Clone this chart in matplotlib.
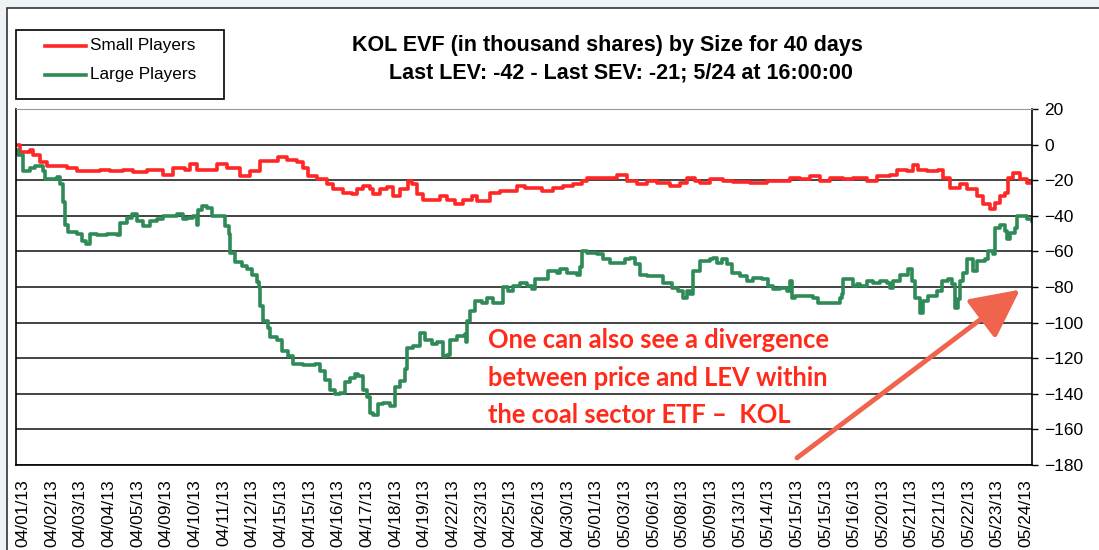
import numpy as np
import matplotlib.pyplot as plt
from matplotlib.patches import Rectangle
from matplotlib.lines import Line2D

plt.rcParams['font.family'] = ['Liberation Sans', 'DejaVu Sans']

# intraday sample number (15-min bars over the 40 days), EVF value in thousand shares
small = np.array([
    (0, 0), (4, -4), (14, -3), (17, -5.6), (24, -10), (31, -12), (37, -12), (44, -12),
    (51, -13), (61, -15), (71, -15), (84, -14), (94, -15), (107, -14), (117, -15.5),
    (131, -14), (141, -14), (147, -17), (157, -13), (169, -14), (174, -11), (181, -14),
    (191, -14), (201, -11), (211, -13), (224, -17.8), (234, -15), (244, -9.3), (254, -9.3),
    (262, -7), (271, -8.4), (281, -10), (287, -13), (292, -17.8), (301, -19.6), (311, -22.4),
    (317, -25), (327, -27), (336, -28), (341, -25), (347, -23.4), (354, -25), (357, -28),
    (364, -25), (371, -24), (377, -29), (384, -25), (392, -20.6), (396, -22.4), (401, -28),
    (407, -31), (417, -31), (424, -29), (431, -31), (439, -33.6), (447, -31), (456, -29),
    (461, -31.8), (467, -31.8), (474, -27), (484, -26), (494, -26), (501, -23.4),
    (509, -24.3), (514, -24.3), (526, -26), (537, -24.3), (547, -23.4), (557, -22.4),
    (566, -20.6), (571, -18.7), (581, -18.7), (591, -18.7), (601, -17.2), (611, -20.6),
    (621, -22.4), (631, -20.6), (641, -21.5), (654, -23.4), (664, -21.5), (671, -18.7),
    (679, -20.6), (684, -21.5), (694, -19.6), (707, -20.6), (717, -21), (734, -21.5),
    (751, -20.6), (764, -20.6), (774, -19), (784, -19.6), (794, -17.8), (804, -20.6),
    (814, -18.7), (827, -19.6), (837, -18.7), (844, -18.7), (851, -20.6), (861, -17.8),
    (874, -16.8), (881, -14), (891, -15), (897, -11.2), (902, -14), (911, -15), (922, -14),
    (927, -18.7), (934, -24.3), (944, -22.4), (951, -25), (961, -29), (967, -33.6),
    (974, -36.4), (979, -32.7), (984, -29), (989, -27), (992, -18.7), (997, -15.9),
    (1004, -19.6), (1011, -21.5), (1016, -21),
])

large = np.array([
    (0, -3), (2, -5.6), (7, -15), (14, -13), (19, -12), (24, -12), (27, -15), (29, -19.6),
    (37, -19.6), (41, -18), (44, -22), (47, -32), (49, -45), (52, -49), (57, -49),
    (61, -50.5), (66, -54), (70, -56), (74, -50.5), (81, -51), (91, -50.5), (97, -50.5),
    (101, -51), (104, -44), (111, -41), (116, -39), (121, -43), (127, -46), (134, -43),
    (141, -42), (147, -40), (154, -40), (161, -39), (167, -42), (171, -41), (177, -40),
    (181, -45), (182, -37), (186, -34.6), (191, -35.5), (196, -40), (204, -40), (209, -46),
    (213, -50.5), (214, -61), (219, -66), (226, -68), (231, -70), (236, -73), (241, -77),
    (243, -80), (244, -90.7), (247, -99), (252, -103), (254, -108), (261, -110),
    (266, -116), (272, -119), (277, -123), (287, -124), (299, -123), (304, -127),
    (309, -132), (314, -138), (319, -140), (324, -139.6), (329, -133.6), (334, -131),
    (339, -129), (342, -130), (347, -138), (351, -142), (354, -151), (357, -152),
    (362, -146), (367, -145), (374, -146.7), (379, -136), (384, -132.7), (389, -126),
    (391, -114), (397, -113), (404, -105.6), (409, -110), (416, -112), (421, -111),
    (427, -118.7), (431, -118), (434, -110), (441, -107.5), (449, -106.5), (450, -111),
    (451, -99), (454, -93.5), (459, -88), (466, -88.8), (471, -86), (477, -88.8),
    (482, -88.8), (487, -80), (492, -82), (497, -79.4), (504, -77.6), (511, -79.4),
    (516, -81.3), (519, -75.7), (529, -75.7), (532, -71), (541, -72), (544, -70),
    (551, -72), (561, -73), (564, -69), (566, -59.8), (571, -60.7), (581, -61.7),
    (587, -64.5), (594, -66.4), (604, -66.4), (609, -64.5), (614, -63.5), (619, -67.3),
    (624, -73), (631, -73.8), (641, -73.8), (647, -77.6), (656, -80.4), (662, -82),
    (667, -86), (671, -82), (674, -84), (677, -71), (684, -65.4), (694, -64.5),
    (697, -63.5), (701, -66.4), (706, -64.5), (711, -67.3), (716, -72), (724, -73.8),
    (731, -76.6), (737, -74.8), (746, -75.7), (752, -79.4), (757, -81.3), (764, -80.4),
    (771, -82.2), (774, -76.6), (776, -86), (779, -85), (787, -85), (797, -86),
    (802, -88.8), (811, -88.8), (821, -88.8), (824, -86), (826, -84), (827, -75.7),
    (834, -75.7), (837, -79.4), (841, -78.5), (844, -79.4), (851, -76.6), (857, -77.6),
    (864, -76.6), (871, -77.6), (874, -80.4), (877, -76.6), (884, -73), (892, -70),
    (896, -76.6), (899, -86), (904, -94.4), (907, -88), (912, -85), (921, -82.2),
    (926, -76.6), (932, -75.7), (936, -78.5), (939, -91.6), (942, -86.9), (944, -76.6),
    (947, -72), (951, -64.5), (957, -71), (961, -65.4), (969, -64.5), (972, -59.8),
    (977, -61.7), (979, -46.7), (984, -44.9), (989, -48.6), (991, -53.3), (994, -49.5),
    (999, -46.7), (1001, -40.2), (1007, -40.2), (1011, -42), (1016, -43),
])

dates = ["04/01/13", "04/02/13", "04/03/13", "04/04/13", "04/05/13", "04/09/13",
         "04/10/13", "04/11/13", "04/12/13", "04/15/13", "04/15/13", "04/16/13",
         "04/17/13", "04/18/13", "04/19/13", "04/22/13", "04/23/13", "04/25/13",
         "04/26/13", "04/30/13", "05/01/13", "05/03/13", "05/06/13", "05/08/13",
         "05/09/13", "05/13/13", "05/14/13", "05/15/13", "05/15/13", "05/16/13",
         "05/20/13", "05/21/13", "05/21/13", "05/22/13", "05/23/13", "05/24/13"]
yticks = list(range(20, -181, -20))
series_names = ["Small Players", "Large Players"]
title_lines = ["KOL EVF (in thousand shares) by Size for 40 days",
               "Last LEV: -42 - Last SEV: -21; 5/24 at 16:00:00"]
note_lines = ["One can also see a divergence",
              "between price and LEV within",
              "the coal sector ETF \u2013  KOL"]

RED = '#ff2626'
GREEN = '#2e8b57'
W, H = 1099, 550

fig = plt.figure(figsize=(10.99, 5.5), dpi=100)
fig.patch.set_facecolor('#edf2f4')
fig.add_artist(Rectangle((7 / W, -0.05), 1.1, 1 - 8 / H + 0.05, transform=fig.transFigure,
                         facecolor='white', edgecolor='#333333', lw=1.2, zorder=-10))

ax = fig.add_axes([16 / W, 85 / H, 1016 / W, 356 / H])
ax.patch.set_alpha(0)
ax.plot(small[:, 0], small[:, 1], color=RED, lw=2.6, drawstyle='steps-post')
ax.plot(large[:, 0], large[:, 1], color=GREEN, lw=2.6, drawstyle='steps-post')
ax.set_xlim(0, 1016)
ax.set_ylim(-180, 20)

ax.set_axisbelow(True)
ax.yaxis.grid(True, color='#111111', lw=1.1)
ax.yaxis.tick_right()
ax.set_yticks(yticks)
ax.tick_params(axis='y', direction='out', length=4, width=1, pad=5, labelsize=12.5)
ax.set_xticks(np.linspace(7, 1010, len(dates)))
ax.set_xticklabels(dates, rotation=90)
ax.tick_params(axis='x', length=0, pad=10, labelsize=12.5)
for side in ['left', 'right', 'bottom']:
    ax.spines[side].set_color('black')
    ax.spines[side].set_linewidth(1.2)
ax.spines['top'].set_color('#999999')

fig.text(607 / W, 1 - 45.5 / H, title_lines[0], ha='center', va='center',
         fontsize=15.5, fontweight='bold')
fig.text(621 / W, 1 - 73.5 / H, title_lines[1], ha='center', va='center',
         fontsize=15.5, fontweight='bold')

# legend box drawn by hand, top left
fig.add_artist(Rectangle((16 / W, 1 - 99 / H), 208 / W, 69 / H, transform=fig.transFigure,
                         fill=False, edgecolor='black', lw=1.2))
for i, (name, col) in enumerate(zip(series_names, [RED, GREEN])):
    yy = 1 - (45.5 + 29.5 * i) / H
    fig.add_artist(Line2D([45 / W, 86 / W], [yy, yy], color=col, lw=2.6,
                          transform=fig.transFigure))
    fig.text(90 / W, yy, name, ha='left', va='center', fontsize=12.3)

for i, line in enumerate(note_lines):
    fig.text(488 / W, 1 - (340 + 37.5 * i) / H, line, ha='left', va='center',
             fontsize=18.4, fontweight='bold', color='#ff2a1a', family='Lato')

ax.annotate('', xy=(1004, -81.5), xytext=(781, -176), annotation_clip=False,
            arrowprops=dict(arrowstyle='-|>,head_length=1.0,head_width=0.5',
                            color='#f0634c', lw=3.5, mutation_scale=30,
                            shrinkA=0, shrinkB=0))

fig.savefig('out.png', dpi=100, facecolor=fig.get_facecolor())
